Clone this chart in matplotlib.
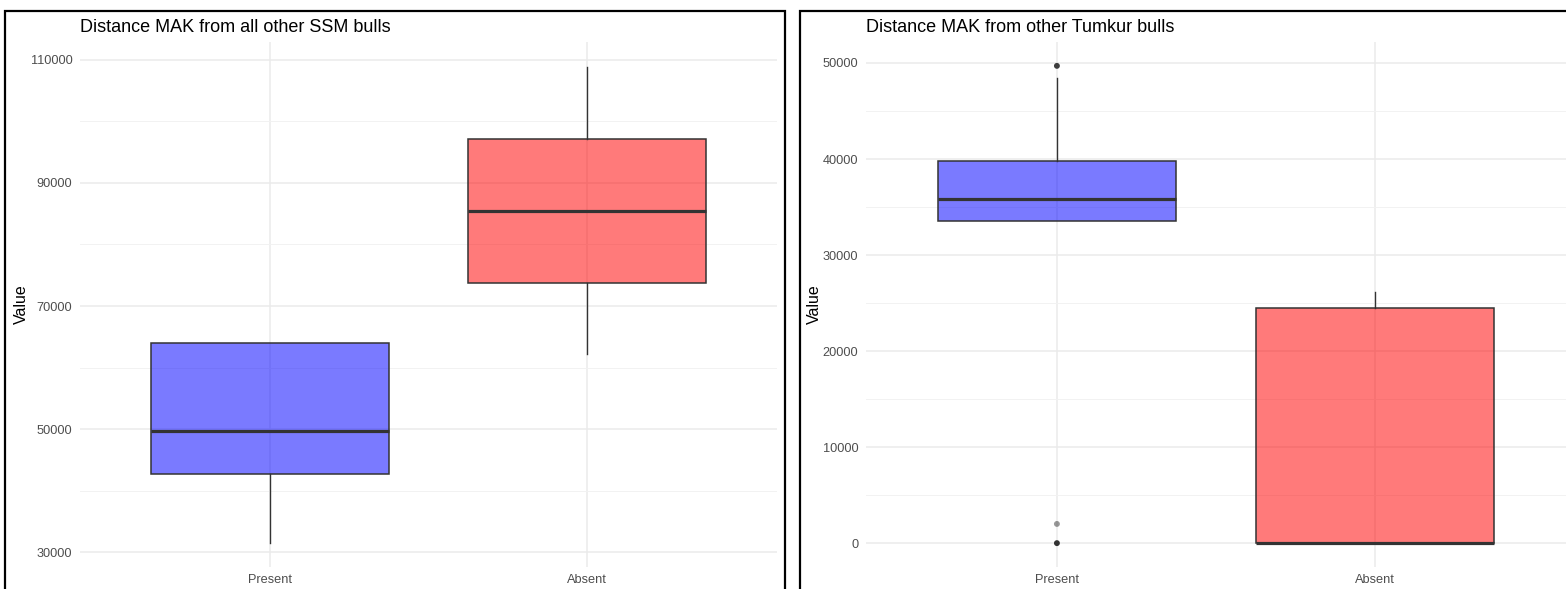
import matplotlib
matplotlib.use('Agg')
from matplotlib import pyplot as plt
from matplotlib.patches import Rectangle

plt.rcParams['font.family'] = ['Liberation Sans', 'DejaVu Sans']

categories = ['Present', 'Absent']

# SSM panel (box summary)
ssm_whislo = [31600, 62200]
ssm_q1 = [42800, 73700]
ssm_med = [49750, 85500]
ssm_q3 = [64000, 97200]
ssm_whishi = [64000, 108850]

# Tumkur panel
tum_whislo = [33550, 0]
tum_q1 = [33550, 0]
tum_med = [35800, 0]
tum_q3 = [39780, 24530]
tum_whishi = [48430, 26200]
tum_outliers = [49700, 2000, 0]
tum_outlier_group = ['Present', 'Present', 'Present']
tum_outlier_alpha = [0.95, 0.5, 1.0]

box_colors = [(0, 0, 1, 0.52), (1, 0, 0, 0.52)]

W, H = 1566, 589
fig = plt.figure(figsize=(W / 100, H / 100), dpi=100)


def draw_panel(rect, title, whislo, q1, med, q3, whishi, ylim, yticks, yminor, label_x):
    ax = fig.add_axes(rect)
    stats = []
    for i, c in enumerate(categories):
        stats.append({'label': c, 'whislo': whislo[i], 'q1': q1[i], 'med': med[i],
                      'q3': q3[i], 'whishi': whishi[i], 'fliers': []})
    bp = ax.bxp(stats, positions=[1, 2], widths=0.75, showfliers=False,
                showcaps=False, patch_artist=True,
                boxprops=dict(edgecolor='#333333', linewidth=1.1),
                whiskerprops=dict(color='#333333', linewidth=1.0),
                medianprops=dict(color='#333333', linewidth=2.3, solid_capstyle='butt'))
    for patch, col in zip(bp['boxes'], box_colors):
        patch.set_facecolor(col)
    ax.set_xlim(0.4, 2.6)
    ax.set_ylim(*ylim)
    ax.set_yticks(yticks)
    ax.set_yticks(yminor, minor=True)
    ax.set_xticks([1, 2])
    ax.set_xticklabels(categories)
    ax.set_axisbelow(True)
    ax.grid(True, which='major', color='#ebebeb', linewidth=1.1)
    ax.grid(True, which='minor', axis='y', color='#f2f2f2', linewidth=0.7)
    for s in ax.spines.values():
        s.set_visible(False)
    ax.tick_params(which='both', length=0, labelsize=9.2, labelcolor='#4d4d4d')
    ax.tick_params(axis='y', pad=5.5)
    ax.tick_params(axis='x', pad=5)
    ax.set_ylabel('Value', fontsize=11.5, va='center')
    ax.yaxis.set_label_coords(label_x, 0.5)
    ax.set_title(title, loc='left', fontsize=13, pad=7)
    return ax


ax1 = draw_panel([80 / W, 22 / H, 697 / W, 525 / H], 'Distance MAK from all other SSM bulls',
                 ssm_whislo, ssm_q1, ssm_med, ssm_q3, ssm_whishi,
                 (27625, 112875), [30000, 50000, 70000, 90000, 110000],
                 [40000, 60000, 80000, 100000], (21 - 80) / 697)

ax2 = draw_panel([866 / W, 22 / H, 700 / W, 525 / H], 'Distance MAK from other Tumkur bulls',
                 tum_whislo, tum_q1, tum_med, tum_q3, tum_whishi,
                 (-2485, 52185), [0, 10000, 20000, 30000, 40000, 50000],
                 [5000, 15000, 25000, 35000, 45000], (814 - 866) / 700)

for v, g, a in zip(tum_outliers, tum_outlier_group, tum_outlier_alpha):
    ax2.scatter(categories.index(g) + 1, v, s=18, color='#333333', alpha=a,
                edgecolor='none', zorder=5)

# panel frames
for x0, x1 in [(5, 785), (800, 1600)]:
    fig.patches.append(Rectangle((x0 / W, -0.1), (x1 - x0) / W, 1.1 - 11 / H,
                                 transform=fig.transFigure, fill=False,
                                 edgecolor='black', linewidth=1.6))

fig.savefig('out.png', dpi=100)
